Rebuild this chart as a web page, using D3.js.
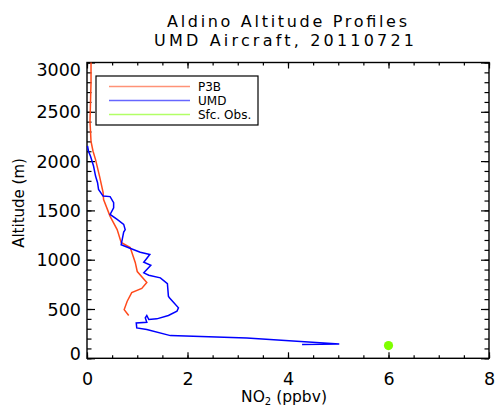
<!DOCTYPE html>
<meta charset="utf-8">
<style>
body { margin: 0; background: #fff; }
svg { display: block; }
text { font-family: "DejaVu Sans", sans-serif; fill: #000; }
.axis path { display: none; }
.axis line { stroke: #000; stroke-width: 1.2; }
</style>
<body>
<script src="https://cdn.jsdelivr.net/npm/d3@7"></script>
<script>

// P3B profile (altitude m, NO2 ppbv)
var p3bAlt = [3000, 2800, 2600, 2400, 2200, 2100, 2015, 1845, 1683, 1610, 1440, 1306, 1175, 1124, 972, 880, 768, 708, 666, 579, 494, 434];
var p3bNO2 = [0.08, 0.08, 0.07, 0.06, 0.08, 0.12, 0.17, 0.25, 0.32, 0.33, 0.46, 0.60, 0.68, 0.86, 0.96, 1.00, 1.19, 1.09, 0.89, 0.80, 0.74, 0.83];

// UMD aircraft profile
var umdAlt = [2153, 2100, 2050, 1950, 1848, 1781, 1713, 1645, 1640, 1578, 1527, 1459, 1408, 1358, 1306, 1280, 1152, 1121, 1076, 1053, 975, 944, 867, 843, 816, 758, 630, 613, 512, 477, 434, 400, 393, 434, 410, 366, 359, 308, 291, 230, 207, 146, 140];
var umdNO2 = [0.01, 0.03, 0.07, 0.13, 0.17, 0.21, 0.23, 0.32, 0.46, 0.53, 0.53, 0.46, 0.60, 0.73, 0.76, 0.73, 0.68, 0.83, 1.06, 1.25, 1.13, 1.27, 1.13, 1.23, 1.46, 1.60, 1.62, 1.64, 1.82, 1.79, 1.62, 1.39, 1.23, 1.19, 1.16, 1.19, 0.98, 0.99, 1.19, 1.66, 3.18, 5.02, 4.28];

// surface observation
var sfcAlt = [129];
var sfcNO2 = [6.0];

var xTicks = [0, 2, 4, 6, 8];
var yTicks = [0, 500, 1000, 1500, 2000, 2500, 3000];
var legendNames = ["P3B", "UMD", "Sfc. Obs."];
var colors = ["#ff4a1c", "#0000ff", "#7fff00"];

var W = 495, H = 410;
var margin = {top: 62.5, right: 6, bottom: 51.7, left: 87},
    width = W - margin.left - margin.right,
    height = H - margin.top - margin.bottom;

var svg = d3.select("body").append("svg")
    .attr("width", W)
    .attr("height", H);

var g = svg.append("g")
    .attr("transform", "translate(" + margin.left + "," + margin.top + ")");

var x = d3.scaleLinear().domain([0, 8]).range([0, width]);
var y = d3.scaleLinear().domain([0, 3000]).range([height, 0]);

var xMinor = d3.range(0, 8.01, 0.5);
var yMinor = d3.range(0, 3001, 100);

// minor ticks (inward)
g.append("g").attr("class", "axis")
    .call(d3.axisLeft(y).tickValues(yMinor).tickSizeInner(-4.5).tickSizeOuter(0).tickFormat(""));
g.append("g").attr("class", "axis")
    .attr("transform", "translate(" + width + ",0)")
    .call(d3.axisRight(y).tickValues(yMinor).tickSizeInner(-4.5).tickSizeOuter(0).tickFormat(""));
g.append("g").attr("class", "axis")
    .attr("transform", "translate(0," + height + ")")
    .call(d3.axisBottom(x).tickValues(xMinor).tickSizeInner(-3).tickSizeOuter(0).tickFormat(""));
g.append("g").attr("class", "axis")
    .call(d3.axisTop(x).tickValues(xMinor).tickSizeInner(-3).tickSizeOuter(0).tickFormat(""));

// major ticks
var yAxis = g.append("g").attr("class", "axis")
    .call(d3.axisLeft(y).tickValues(yTicks).tickSizeInner(-8).tickSizeOuter(0).tickPadding(6).tickFormat(d3.format("d")));
yAxis.selectAll("text").style("font-size", "17.5px")
    .attr("dy", function(d) { return d == 3000 ? "0.75em" : d == 0 ? "0.05em" : "0.35em"; });
g.append("g").attr("class", "axis")
    .attr("transform", "translate(" + width + ",0)")
    .call(d3.axisRight(y).tickValues(yTicks).tickSizeInner(-8).tickSizeOuter(0).tickFormat(""));

var xAxis = g.append("g").attr("class", "axis")
    .attr("transform", "translate(0," + height + ")")
    .call(d3.axisBottom(x).tickValues(xTicks).tickSizeInner(-6).tickSizeOuter(0).tickPadding(14.5).tickFormat(d3.format("d")));
xAxis.selectAll("text").style("font-size", "17.5px");
g.append("g").attr("class", "axis")
    .call(d3.axisTop(x).tickValues(xTicks).tickSizeInner(-6).tickSizeOuter(0).tickFormat(""));

// frame
g.append("rect")
    .attr("width", width).attr("height", height)
    .attr("fill", "none").attr("stroke", "#000").attr("stroke-width", 1.4);

// profiles
var line = d3.line()
    .x(function(d) { return x(d[0]); })
    .y(function(d) { return y(d[1]); });

g.append("path")
    .datum(d3.zip(p3bNO2, p3bAlt))
    .attr("d", line)
    .attr("fill", "none").attr("stroke", colors[0]).attr("stroke-width", 1.5);

g.append("path")
    .datum(d3.zip(umdNO2, umdAlt))
    .attr("d", line)
    .attr("fill", "none").attr("stroke", colors[1]).attr("stroke-width", 1.5);

g.selectAll(".sfc")
    .data(d3.zip(sfcNO2, sfcAlt))
  .enter().append("circle")
    .attr("class", "sfc")
    .attr("cx", function(d) { return x(d[0]); })
    .attr("cy", function(d) { return y(d[1]); })
    .attr("r", 4.6)
    .attr("fill", colors[2]);

// legend
var leg = svg.append("g").attr("transform", "translate(96,76)");
leg.append("rect")
    .attr("width", 162).attr("height", 49)
    .attr("fill", "#fff").attr("stroke", "#000").attr("stroke-width", 1.2);
legendNames.forEach(function(name, i) {
  var ly = 10.5 + i * 14;
  leg.append("line")
      .attr("x1", 13).attr("x2", 94).attr("y1", ly).attr("y2", ly)
      .attr("stroke", colors[i]).attr("stroke-width", 1.6).attr("stroke-opacity", 0.6);
  leg.append("text")
      .attr("x", 102).attr("y", ly + 4.5)
      .style("font-size", "12px")
      .text(name);
});

// titles
svg.append("text")
    .attr("x", 167).attr("y", 27)
    .attr("textLength", 240)
    .style("font-size", "16px")
    .text("Aldino Altitude Profiles");
svg.append("text")
    .attr("x", 154).attr("y", 46)
    .attr("textLength", 260)
    .style("font-size", "16px")
    .text("UMD Aircraft, 20110721");

// axis titles
var xt = svg.append("text")
    .attr("x", 284).attr("y", 402)
    .attr("text-anchor", "middle")
    .style("font-size", "15.5px");
xt.append("tspan").text("NO");
xt.append("tspan").attr("dy", 3).style("font-size", "10px").text("2");
xt.append("tspan").attr("dy", -3).text(" (ppbv)");

svg.append("text")
    .attr("transform", "translate(24,203) rotate(-90)")
    .attr("text-anchor", "middle")
    .style("font-size", "15px")
    .text("Altitude (m)");

</script>
</body>
